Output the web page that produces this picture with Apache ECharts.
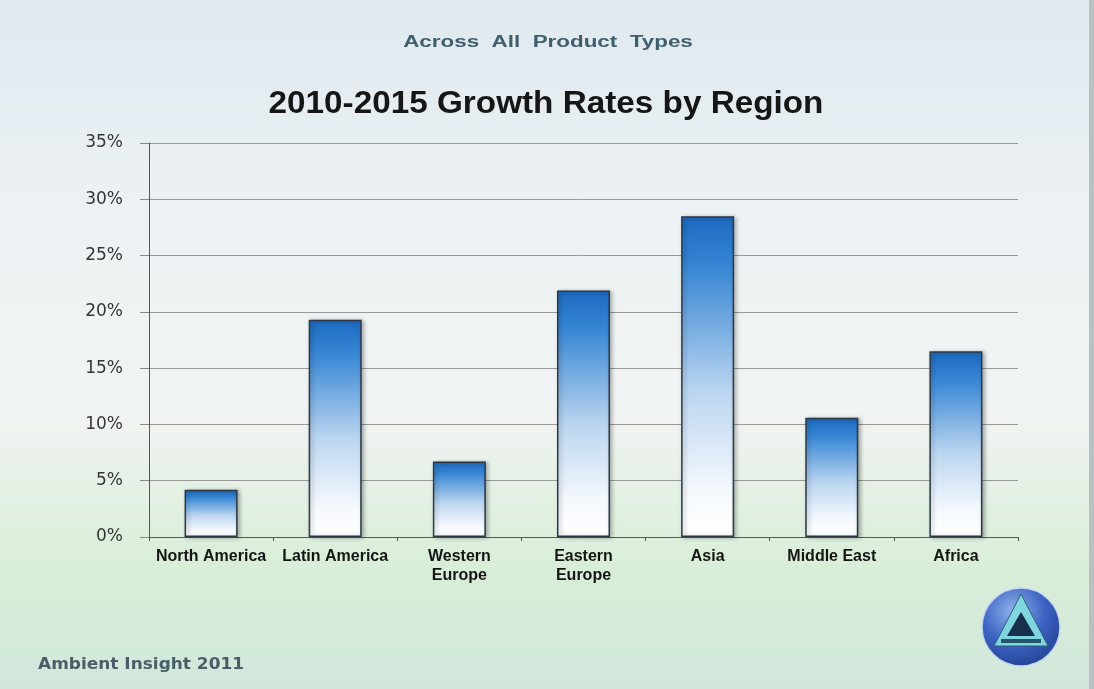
<!DOCTYPE html>
<html>
<head>
<meta charset="utf-8">
<script src="https://cdn.jsdelivr.net/npm/echarts@6/dist/echarts.min.js"></script>
<style>
html,body{margin:0;padding:0;width:1094px;height:689px;overflow:hidden;}
#c{width:1094px;height:689px;}
</style>
</head>
<body>
<div id="c"></div>
<script>
const categories = ['North America', 'Latin America', 'Western\nEurope', 'Eastern\nEurope', 'Asia', 'Middle East', 'Africa'];
const growthRates = [4.2, 19.3, 6.7, 21.9, 28.5, 10.6, 16.5];
const yTicks = [0, 5, 10, 15, 20, 25, 30, 35];
const titleText = '2010-2015 Growth Rates by Region';
const subtitleText = 'Across  All  Product  Types';
const footerText = 'Ambient Insight 2011';

const chart = echarts.init(document.getElementById('c'), null, {renderer: 'canvas'});
const option = {
  backgroundColor: new echarts.graphic.LinearGradient(0, 0, 0, 1, [
    {offset: 0, color: '#dfe9ef'},
    {offset: 0.3, color: '#ecf1f4'},
    {offset: 0.6, color: '#f1f4f3'},
    {offset: 0.82, color: '#d9eed8'},
    {offset: 1, color: '#d1e7db'}
  ]),
  animation: false,
  grid: {left: 149, right: 76, top: 143, bottom: 152},
  xAxis: {
    type: 'category',
    data: categories,
    axisLine: {show: true, lineStyle: {color: '#555', width: 1}},
    axisTick: {show: true, length: 4, lineStyle: {color: '#555'}},
    axisLabel: {
      fontFamily: 'Liberation Sans', fontSize: 16, fontWeight: 'bold', color: '#151515',
      margin: 10, lineHeight: 19, interval: 0
    }
  },
  yAxis: {
    type: 'value',
    min: 0, max: 35, interval: 5,
    axisLine: {show: true, lineStyle: {color: '#555', width: 1}},
    axisTick: {show: true, length: 9, lineStyle: {color: '#888'}},
    axisLabel: {
      fontFamily: 'DejaVu Sans', fontSize: 17, color: '#363636', margin: 26,
      formatter: v => yTicks.includes(v) ? v + '%' : ''
    },
    splitLine: {show: true, lineStyle: {color: '#999', width: 1}}
  },
  series: [{
    type: 'bar',
    data: growthRates,
    barWidth: 53,
    itemStyle: {
      color: new echarts.graphic.LinearGradient(0, 0, 0, 1, [
        {offset: 0, color: '#1c6ac0'},
        {offset: 0.15, color: '#3585d4'},
        {offset: 0.55, color: '#bcd6f0'},
        {offset: 0.85, color: '#f4f8fd'},
        {offset: 1, color: '#ffffff'}
      ]),
      borderColor: '#2a3848',
      borderWidth: 1.5,
      shadowBlur: 4,
      shadowColor: 'rgba(0,0,0,0.3)',
      shadowOffsetX: 2,
      shadowOffsetY: 1
    }
  }],
  graphic: [
    {
      type: 'text', x: 548, y: 43, scaleX: 1.4,
      style: {text: subtitleText, x: 0, y: 0, align: 'center', verticalAlign: 'middle',
        fontFamily: 'Liberation Sans', fontSize: 16, fontWeight: 'bold', fill: '#3e5f6b'}
    },
    {
      type: 'text', x: 546, y: 104, scaleX: 1.04,
      style: {text: titleText, x: 0, y: 0, align: 'center', verticalAlign: 'middle',
        fontFamily: 'Liberation Sans', fontSize: 32, fontWeight: 'bold', fill: '#161616'}
    },
    {
      type: 'text', x: 38, y: 665, scaleX: 1.06,
      style: {text: footerText, x: 0, y: 0, align: 'left', verticalAlign: 'middle',
        fontFamily: 'DejaVu Sans', fontSize: 16, fontWeight: 'bold', fill: '#3b4f5a', opacity: 0.9}
    },
    {
      type: 'rect', right: 0, top: 0, shape: {width: 5, height: 689},
      style: {fill: '#b8c0c4'}
    },
    {
      type: 'circle', shape: {cx: 1021, cy: 627, r: 39},
      style: {
        fill: new echarts.graphic.RadialGradient(0.4, 0.3, 0.8, [
          {offset: 0, color: '#8fb3ea'},
          {offset: 0.5, color: '#3d63c4'},
          {offset: 1, color: '#1e3c8a'}
        ]),
        stroke: '#c7d6ee', lineWidth: 1.5
      }
    },
    {
      type: 'polygon', shape: {points: [[1021, 594], [994, 646], [1048, 646]]},
      style: {fill: '#7fd6e0', stroke: '#2b5d75', lineWidth: 1}
    },
    {
      type: 'polygon', shape: {points: [[1021, 612], [1007, 636], [1035, 636]]},
      style: {fill: '#17314d'}
    },
    {
      type: 'rect', shape: {x: 1001, y: 639, width: 40, height: 4},
      style: {fill: '#23566b'}
    }
  ]
};
chart.setOption(option);
</script>
</body>
</html>
